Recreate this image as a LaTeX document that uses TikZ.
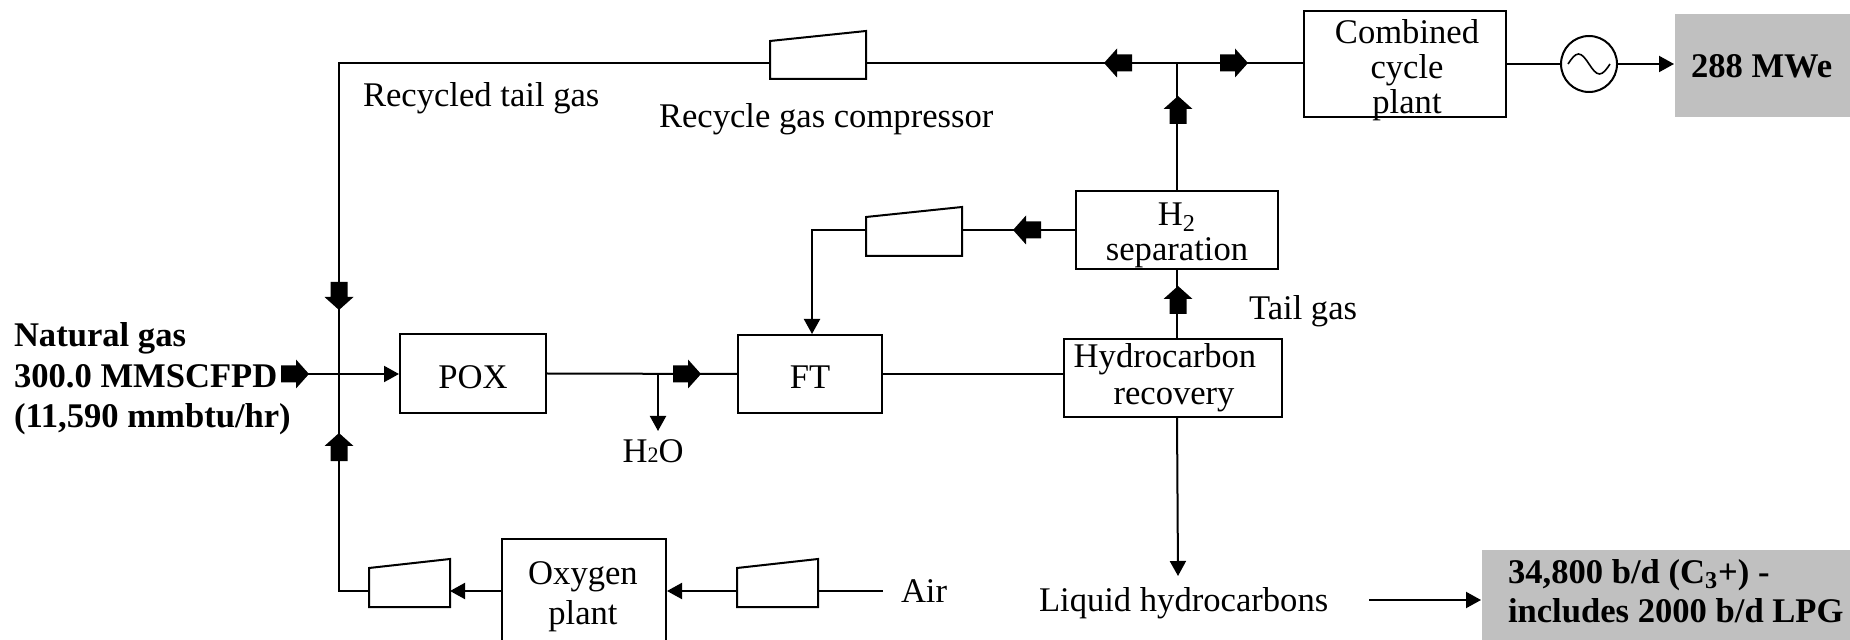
\documentclass[tikz,border=0pt]{standalone}
\usepackage{fontspec}
\setmainfont{Liberation Serif}
\usetikzlibrary{arrows.meta,fit}
\definecolor{panelgray}{RGB}{192,192,192}
\tikzset{
  pics/blockarrow/.style={code={\fill[black] (-14,-8.5) -- (1,-8.5) -- (1,-14.5) -- (14,0) -- (1,14.5) -- (1,8.5) -- (-14,8.5) -- cycle;}},
}
\begin{document}
\begin{tikzpicture}[x=0.5pt,y=-0.5pt,line width=1pt,
  txt/.style={inner sep=0pt,font=\fontsize{17.3}{20.5}\selectfont},
  btxt/.style={inner sep=0pt,font=\fontsize{17.3}{20.5}\selectfont\bfseries},
  unit/.style={draw,inner sep=0pt,line width=1pt},
  panel/.style={fill=panelgray,inner sep=0pt},
  flow/.style={-{Triangle[length=7.5pt,width=8pt]}},
  compressor/.style={line width=1pt,fill=white}]
\useasboundingbox (0,0) rectangle (1850,640);

% process units
\node[unit,fit={(400,334) (546,413)}] (pox) {};
\node[unit,fit={(738,335) (882,413)}] (ft) {};
\node[unit,fit={(1064,339) (1282,417)}] (hc) {};
\node[unit,fit={(1076,191) (1278,269)}] (h2) {};
\node[unit,fit={(1304,11) (1506,117)}] (cc) {};
\node[unit,fit={(502,539) (666,660)}] (ox) {};
\node[panel,fit={(1675,14) (1860,117)}] (mwe) {};
\node[panel,fit={(1482,550) (1860,660)}] (liqout) {};
\node[draw,circle,minimum size=28pt,inner sep=0pt] (gen) at (1589,64) {};
\draw[line width=0.8pt] (1568,64) sin (1578.5,54) cos (1589,64) sin (1599.5,74) cos (1610,64);

% compressors
\draw[compressor] (770,41) -- (866,31) -- (866,79) -- (770,79) -- cycle;
\coordinate (c1w) at (770,63); \coordinate (c1e) at (866,63);
\draw[compressor] (866,217) -- (962,207) -- (962,256) -- (866,256) -- cycle;
\coordinate (c2w) at (866,230); \coordinate (c2e) at (962,230);
\draw[compressor] (369,568) -- (450,559) -- (450,607) -- (369,607) -- cycle;
\coordinate (c3w) at (369,591); \coordinate (c3e) at (450,591);
\draw[compressor] (737,568) -- (818,559) -- (818,607) -- (737,607) -- cycle;
\coordinate (c4w) at (737,591); \coordinate (c4e) at (818,591);

% helper points
\coordinate (tl) at (339,63);
\coordinate (bl) at (339,591);
\coordinate (ngout) at (308,374);
\coordinate (h2oj) at (658,374);
\coordinate (h2otip) at (658,431);
\coordinate (liqtip) at (1178,576);
\coordinate (liqstart) at (1369,600);
\coordinate (airend) at (883,591);
\coordinate (ftin) at (812,230);

% connectors
\draw (c1w) -- (tl) -- (bl) -- (c3w);
\draw (c1e) -- (cc.west |- c1e);
\draw (h2.north) -- (h2.north |- c1e);
\draw (hc.north -| h2.south) -- (h2.south);
\draw (h2.west |- c2e) -- (c2e);
\draw[flow] (c2w) -- (ftin) -- (ftin |- ft.north);
\draw[flow] (ngout) -- (pox.west |- ngout);
\draw (pox.east) -- (ft.west);
\draw[flow] (h2oj) -- (h2otip);
\draw (ft.east) -- (ft.east -| hc.west);
\draw[flow] (hc.south -| h2.south) -- (liqtip);
\draw[flow] (liqstart) -- (liqout.west |- liqstart);
\draw (cc.east |- gen.west) -- (gen.west);
\draw[flow] (gen.east) -- (mwe.west |- gen.east);
\draw[flow] (ox.west |- c3e) -- (c3e);
\draw[flow] (c4w) -- (ox.east |- c4w);
\draw (c4e) -- (airend);

% block arrows
\pic[rotate=180] at (1118,63) {blockarrow};
\pic at (1234,63) {blockarrow};
\pic[rotate=90] at (1178,110) {blockarrow};
\pic[rotate=90] at (1178,300) {blockarrow};
\pic[rotate=180] at (1027,230) {blockarrow};
\pic at (687,374) {blockarrow};
\pic at (295,374) {blockarrow};
\pic[rotate=-90] at (339,296) {blockarrow};
\pic[rotate=90] at (339,447) {blockarrow};

% labels
\node[txt,anchor=base west] (rtg) at (362,107) {Recycled tail gas};
\node[txt,anchor=base west] (rgc) at (658,128) {Recycle gas compressor};
\node[txt,anchor=base] (cc1) at (1407,44) {Combined};
\node[txt,anchor=base] (cc2) at (1407,79) {cycle};
\node[txt,anchor=base] (cc3) at (1407,114) {plant};
\node[txt,anchor=base] (h2a) at (1177,226) {H\textsubscript{2}};
\node[txt,anchor=base] (h2b) at (1177,261) {separation};
\node[txt,anchor=base west] (tg) at (1248,320) {Tail gas};
\node[txt,anchor=base] (hc1) at (1165,368) {Hydrocarbon};
\node[txt,anchor=base] (hc2) at (1174,405) {recovery};
\node[txt,anchor=base] (poxl) at (473,389) {POX};
\node[txt,anchor=base] (ftl) at (810,389) {FT};
\node[txt,anchor=base] (h2o) at (653,463) {H{\fontsize{11}{11}\selectfont 2}O};
\node[txt,anchor=base] (ox1) at (583,584) {Oxygen};
\node[txt,anchor=base] (ox2) at (583,624) {plant};
\node[txt,anchor=base west] (air) at (900,602) {Air};
\node[txt,anchor=base west] (liq) at (1038,611) {Liquid hydrocarbons};
\node[btxt,anchor=base west] (ng1) at (13,347) {Natural gas};
\node[btxt,anchor=base west] (ng2) at (13,388) {300.0 MMSCFPD};
\node[btxt,anchor=base west] (ng3) at (13,428) {(11,590 mmbtu/hr)};
\node[btxt,anchor=base west] (mwel) at (1690,78) {288 MWe};
\node[btxt,anchor=base west] (lq1) at (1507,583) {34,800 b/d (C\textsubscript{3}+) -};
\node[btxt,anchor=base west] (lq2) at (1507,622) {includes 2000 b/d LPG};
\end{tikzpicture}
\end{document}
